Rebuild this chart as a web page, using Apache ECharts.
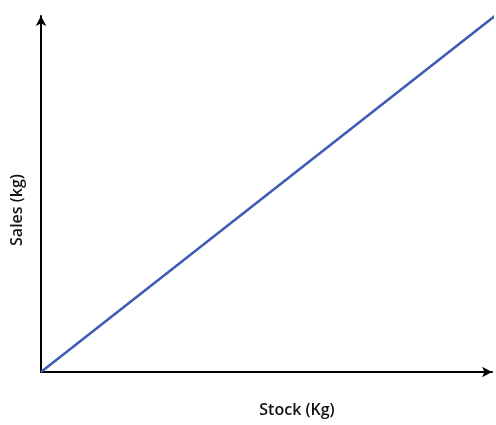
<!DOCTYPE html>
<html><head><meta charset="utf-8">
<script src="https://cdn.jsdelivr.net/npm/echarts@6/dist/echarts.min.js"></script>
<style>html,body{margin:0;padding:0;background:#fff}#c{width:496px;height:425px}</style>
</head><body><div id="c"></div>
<script>
var stock = [0, 101.2];
var sales = [0, 100.6];
var xTitle = 'Stock (Kg)';
var yTitle = 'Sales (kg)';
var chart = echarts.init(document.getElementById('c'));
var data = stock.map(function(s,i){return [s, sales[i]];});
chart.setOption({
  animation:false,
  grid:{left:41, right:4, top:16, bottom:53, containLabel:false, outerBoundsMode:'none'},
  graphic:[
    {type:'text', x:297, y:410, style:{text:xTitle, align:'center', verticalAlign:'middle', fill:'#111', fontSize:16, fontWeight:'600', fontFamily:'Open Sans'}},
    {type:'text', x:17, y:210, rotation:Math.PI/2, style:{text:yTitle, align:'center', verticalAlign:'middle', fill:'#111', fontSize:16, fontWeight:'600', fontFamily:'Open Sans'}}
  ],
  xAxis:{type:'value', min:0, max:100,
    axisLine:{show:true, onZero:false, symbol:['none','arrow'], symbolSize:[8,10], lineStyle:{color:'#000', width:2}},
    axisTick:{show:false}, axisLabel:{show:false}, splitLine:{show:false}},
  yAxis:{type:'value', min:0, max:100,
    axisLine:{show:true, onZero:false, symbol:['none','arrow'], symbolSize:[8,10], lineStyle:{color:'#000', width:2}},
    axisTick:{show:false}, axisLabel:{show:false}, splitLine:{show:false}},
  series:[{type:'line', data:data, showSymbol:false, clip:false, lineStyle:{color:'#3b5cb2', width:2.5}}]
});
</script></body></html>
